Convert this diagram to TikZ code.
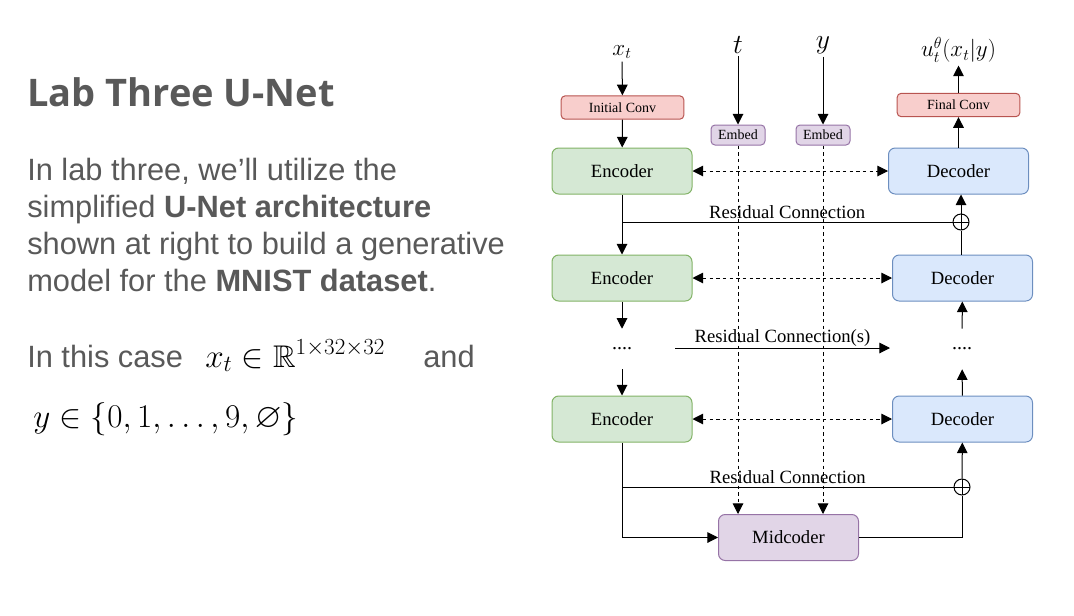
\documentclass[tikz,border=0pt]{standalone}
\usepackage[no-math]{fontspec}
\usepackage{amssymb}
\newfontfamily\slidefont{Liberation Sans}
\newfontfamily\titlefont{Open Sans}
\newfontfamily\figfont{Liberation Serif}
\usetikzlibrary{arrows.meta}
\usetikzlibrary{positioning}
\definecolor{slidegray}{HTML}{595959}
\definecolor{encfill}{HTML}{D5E8D4}
\definecolor{encdraw}{HTML}{82B366}
\definecolor{decfill}{HTML}{DAE8FC}
\definecolor{decdraw}{HTML}{6C8EBF}
\definecolor{convfill}{HTML}{F8CECC}
\definecolor{convdraw}{HTML}{B85450}
\definecolor{midfill}{HTML}{E1D5E7}
\definecolor{middraw}{HTML}{9673A6}
\tikzstyle{bodytext} = [anchor=base west, inner sep=0, text=slidegray, font=\slidefont\fontsize{23.1}{27}\selectfont]
\tikzstyle{block} = [rectangle, rounded corners=5pt, minimum width=105pt, minimum height=34.5pt, text centered, line width=0.75pt, font=\figfont\fontsize{14}{16}\selectfont]
\tikzstyle{encblock} = [block, draw=encdraw, fill=encfill]
\tikzstyle{decblock} = [block, draw=decdraw, fill=decfill]
\tikzstyle{midblock} = [block, draw=middraw, fill=midfill]
\tikzstyle{convblock} = [rectangle, rounded corners=3pt, minimum width=92pt, minimum height=17.5pt, inner sep=1pt, line width=0.75pt, draw=convdraw, fill=convfill, font=\figfont\fontsize{10.5}{12}\selectfont]
\tikzstyle{embblock} = [rectangle, rounded corners=3pt, minimum width=40.5pt, minimum height=15pt, inner sep=1pt, line width=0.75pt, draw=middraw, fill=midfill, font=\figfont\fontsize{10.5}{12}\selectfont]
\tikzstyle{mathlabel} = [inner sep=2pt, font=\fontsize{18}{21}\selectfont]
\tikzstyle{biglabel} = [inner sep=2pt, font=\fontsize{21}{25}\selectfont]
\tikzstyle{reslabel} = [inner sep=2pt, font=\figfont\fontsize{14}{16}\selectfont]
\tikzstyle{dotsnode} = [inner sep=0, minimum height=30pt, font=\figfont\fontsize{15}{17}\selectfont]
\tikzstyle{oplus} = [circle, draw, line width=0.75pt, minimum size=12pt, inner sep=0, path picture={\draw[line width=0.75pt] (path picture bounding box.north) -- (path picture bounding box.south) (path picture bounding box.west) -- (path picture bounding box.east);}]
\tikzstyle{arrow} = [->, line width=0.75pt]
\tikzstyle{dasharrow} = [<->, line width=0.75pt, dash pattern=on 2.5pt off 2.5pt]
\tikzstyle{embarrow} = [->, line width=0.75pt, dash pattern=on 2.5pt off 2.5pt]

\begin{document}
\begin{tikzpicture}[x=0.75pt, y=-0.75pt, >={Triangle[length=8pt,width=8pt]}]
  \useasboundingbox (0,0) rectangle (1074,615);

  % slide text on the left
  \node (title) [anchor=base west, inner sep=0, text=slidegray, font=\titlefont\bfseries\fontsize{28.5}{34}\selectfont] at (27,106) {Lab Three U-Net};
  \node (line1) [bodytext] at (27,180) {In lab three, we’ll utilize the};
  \node (line2) [bodytext] at (27,217) {simplified \textbf{U-Net architecture}};
  \node (line3) [bodytext] at (27,254) {shown at right to build a generative};
  \node (line4) [bodytext] at (27,291) {model for the \textbf{MNIST dataset}.};
  \node (case) [bodytext] at (27,367) {In this case};
  \node (xspace) [anchor=base west, inner sep=0, font=\fontsize{23.5}{28}\selectfont] at (205,367) {$x_t \in \mathbb{R}^{\mbox{\fontsize{19}{22}\selectfont$1{\times}32{\times}32$}}$};
  \node (and) [bodytext] at (423,367) {and};
  \node (yspace) [anchor=base west, inner sep=0, font=\fontsize{25.8}{31}\selectfont] at (33,427) {$y \in \{0,1,\ldots,9,\varnothing\}$};

  % inputs and output
  \node (xt) [mathlabel] at (622,52) {$x_t$};
  \node (tin) [biglabel] at (738,45) {$t$};
  \node (yin) [biglabel] at (823,45) {$y$};
  \node (uout) [mathlabel] at (958.5,50) {$u_t^{\theta}(x_t|y)$};

  % We start by placing the blocks
  \node (initconv) [convblock] at (622.5,107.5) {Initial Conv};
  \node (finalconv) [convblock] at (958.5,105) {Final Conv};
  \node (embt) [embblock] at (738,135) {Embed};
  \node (emby) [embblock] at (823,135) {Embed};
  \node (enc1) [encblock] at (622,171) {Encoder};
  \node (enc2) [encblock] at (622,278) {Encoder};
  \node (enc3) [encblock] at (622,419) {Encoder};
  \node (dec1) [decblock] at (958.5,171) {Decoder};
  \node (dec2) [decblock] at (962.5,278) {Decoder};
  \node (dec3) [decblock] at (962.5,419) {Decoder};
  \node (mid) [midblock] at (788.5,537.5) {Midcoder};
  \node (dotsl) [dotsnode] at (622,349) {....};
  \node (dotsr) [dotsnode] at (962,349) {....};
  \node (plus1) [oplus] at (961,222) {};
  \node (plus2) [oplus] at (962,487) {};
  \coordinate (split1) at (622,222);
  \coordinate (split2) at (622,487);
  \coordinate (rs0) at (675,348);
  \coordinate (rs1) at (890,348);

  % draw connections between nodes
  \draw [arrow] (xt) -- (initconv);
  \draw [arrow] (initconv) -- (enc1);
  \draw [arrow] (tin) -- (embt);
  \draw [arrow] (yin) -- (emby);
  \draw [arrow] (dec1) -- (finalconv);
  \draw [arrow] (finalconv) -- (uout);
  \draw [dasharrow] (enc1) -- (dec1);
  \draw [dasharrow] (enc2) -- (dec2);
  \draw [dasharrow] (enc3) -- (dec3);
  \draw [line width=0.75pt] (enc1) -- (split1) -- node[reslabel, above] {Residual Connection} (plus1);
  \draw [arrow] (split1) -- (enc2);
  \draw [line width=0.75pt] (dec2.north -| plus1) -- (plus1);
  \draw [arrow] (plus1) -- (plus1 |- dec1.south);
  \draw [arrow] (enc2) -- (dotsl);
  \draw [arrow] (dotsl) -- (enc3);
  \draw [arrow] (dec3) -- (dotsr);
  \draw [arrow] (dotsr) -- (dec2);
  \draw [arrow] (rs0) -- node[reslabel, above, inner sep=0.5pt] {Residual Connection(s)} (rs1);
  \draw [line width=0.75pt] (enc3) -- (split2) -- node[reslabel, above] {Residual Connection} (plus2);
  \draw [arrow] (split2) |- (mid);
  \draw [line width=0.75pt] (mid) -| (plus2);
  \draw [arrow] (plus2) -- (dec3);
  \draw [embarrow] (embt) -- (embt |- mid.north);
  \draw [embarrow] (emby) -- (emby |- mid.north);

\end{tikzpicture}
\end{document}
